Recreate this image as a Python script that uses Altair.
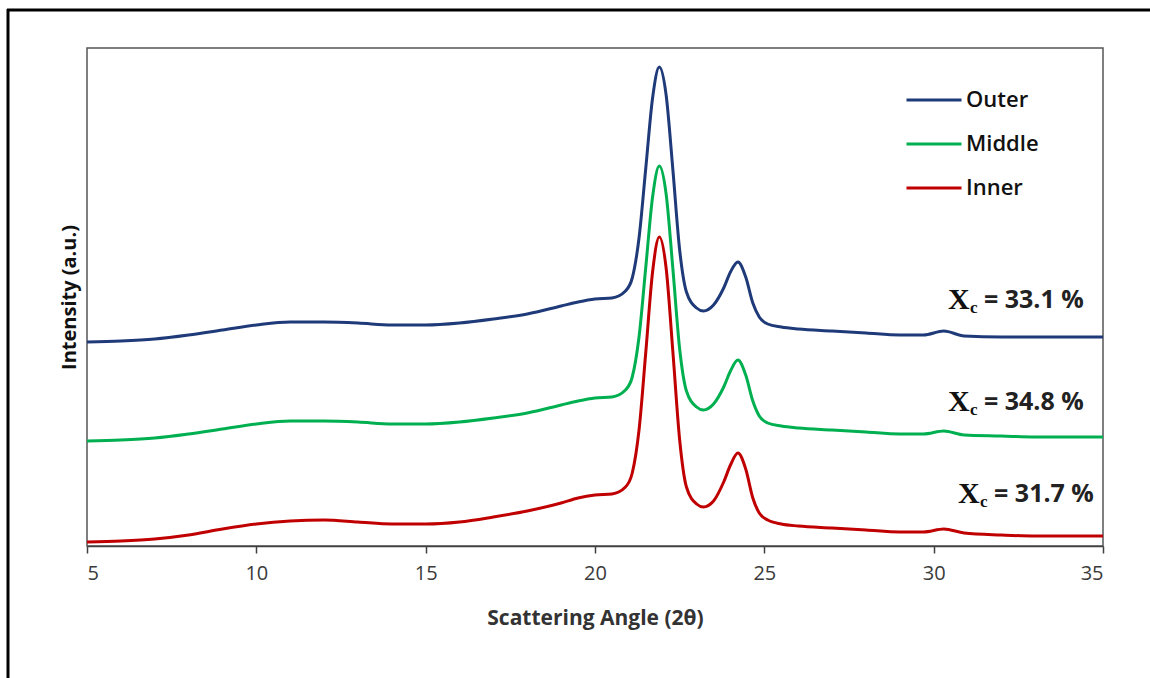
import altair as alt
import pandas as pd

# Diffraction angle grid (2θ, degrees)
THETA = [5, 6, 7, 8, 9, 10, 11, 12, 13, 14, 15, 16, 17, 18, 19, 19.5, 20, 20.5,
         20.9, 21.1, 21.3, 21.5, 21.7, 21.9, 22.1, 22.3, 22.5, 22.7, 23.0, 23.2,
         23.5, 23.8, 24.0, 24.22, 24.45, 24.66, 24.85, 25.1, 25.5, 26, 27, 28,
         29, 29.7, 30.3, 30.9, 32, 33, 34, 35]

# Offset intensity profiles (a.u.) of the three layers
OUTER = [204, 205, 207, 211, 216, 221, 224, 224, 223, 221, 221, 223, 227, 232,
         240, 244, 247, 248, 255, 268, 308, 378, 448, 479, 451, 376, 296, 254,
         238, 235, 241, 258, 274, 284, 269, 243, 229, 222, 219, 217, 215, 213,
         211, 211, 215, 210, 209, 209, 209, 209]
MIDDLE = [105, 106, 108, 112, 117, 122, 125, 125, 124, 122, 122, 124, 128, 133,
          141, 145, 148, 149, 156, 169, 209, 279, 349, 380, 352, 277, 197, 155,
          139, 136, 142, 159, 175, 186, 171, 145, 130, 123, 120, 118, 116, 114,
          112, 112, 115, 111, 110, 109, 109, 109]
INNER = [4, 5, 7, 11, 17, 22, 25, 26, 24, 22, 22, 24, 29, 35, 43, 48, 51, 52,
         59, 73, 116, 194, 274, 309, 278, 194, 106, 59, 42, 39, 45, 64, 81, 93,
         77, 48, 33, 26, 22, 20, 18, 16, 14, 14, 17, 13, 11, 10, 10, 10]

SERIES = ["Outer", "Middle", "Inner"]
COLORS = ["#1f3a78", "#00b050", "#c00000"]

# Crystallinity annotations
XC_TEXT = ["= 33.1 %", "= 34.8 %", "= 31.7 %"]
XC_X = [30.42, 30.42, 30.72]
XC_Y = [246, 144, 52]

X_TICKS = [5, 10, 15, 20, 25, 30, 35]

rows = []
for name, ys in zip(SERIES, [OUTER, MIDDLE, INNER]):
    for t, v in zip(THETA, ys):
        rows.append({"theta": t, "intensity": v, "sample": name})
df = pd.DataFrame(rows)

labels = pd.DataFrame({"theta": XC_X, "intensity": XC_Y, "text": XC_TEXT})

x_scale = alt.Scale(domain=[5, 35], nice=False, zero=False)
y_scale = alt.Scale(domain=[0, 498], nice=False)

lines = alt.Chart(df).mark_line(strokeWidth=3, interpolate="monotone").encode(
    x=alt.X("theta:Q", scale=x_scale,
            axis=alt.Axis(values=X_TICKS, title="Scattering Angle (2θ)",
                          grid=False, tickSize=7, tickColor="#404040",
                          domainColor="#404040", domainWidth=1.5, tickWidth=1.5,
                          labelFontSize=20, labelFont="Open Sans",
                          labelColor="#3a3a3a", labelPadding=10,
                          titleFontSize=21, titleFont="Open Sans",
                          titleFontWeight="bold", titleColor="#333333",
                          titlePadding=24)),
    y=alt.Y("intensity:Q", scale=y_scale,
            axis=alt.Axis(title="Intensity (a.u.)", labels=False, ticks=False,
                          grid=False, domain=False,
                          titleFontSize=20, titleFont="Open Sans",
                          titleFontWeight="bold", titleColor="#111111",
                          titlePadding=8)),
    color=alt.Color("sample:N",
                    scale=alt.Scale(domain=SERIES, range=COLORS),
                    legend=alt.Legend(orient="none", legendX=818, legendY=23,
                                      title=None, symbolType="stroke",
                                      symbolSize=3025, symbolStrokeWidth=3,
                                      labelFontSize=22, labelFont="Open Sans",
                                      labelFontWeight=600, labelColor="#111111",
                                      labelOffset=3, rowPadding=4, padding=0)),
    order=alt.Order("theta:Q"),
)

base_lbl = alt.Chart(labels).encode(
    x=alt.X("theta:Q", scale=x_scale),
    y=alt.Y("intensity:Q", scale=y_scale),
)
x_char = base_lbl.mark_text(text="X", align="left", baseline="middle",
                            font="Liberation Serif", fontWeight="bold",
                            fontSize=30, color="#111111")
c_char = base_lbl.mark_text(text="c", align="left", baseline="middle",
                            font="Liberation Serif", fontWeight="bold",
                            fontSize=17, color="#111111", dx=22, dy=8)
rest = base_lbl.mark_text(align="left", baseline="middle",
                          font="Open Sans", fontWeight="bold",
                          fontSize=25, color="#222222", dx=36).encode(text="text:N")

# Outer frame around the figure
one = pd.DataFrame({"k": [0]})
frame_left = alt.Chart(one).mark_rule(color="black", strokeWidth=3).encode(
    x=alt.value(-79), y=alt.value(-39), y2=alt.value(640))
frame_top = alt.Chart(one).mark_rule(color="black", strokeWidth=3).encode(
    y=alt.value(-38), x=alt.value(-80), x2=alt.value(1070))

chart = alt.layer(lines, x_char, c_char, rest, frame_left, frame_top).properties(
    width=1016, height=498,
    autosize=alt.AutoSizeParams(type="none"),
    padding={"left": 87, "top": 48, "right": 47, "bottom": 132},
    background="white",
).configure_view(stroke="#555555", strokeWidth=1.5)

chart.save("out.html", embed_options={"renderer": "svg", "actions": False})
